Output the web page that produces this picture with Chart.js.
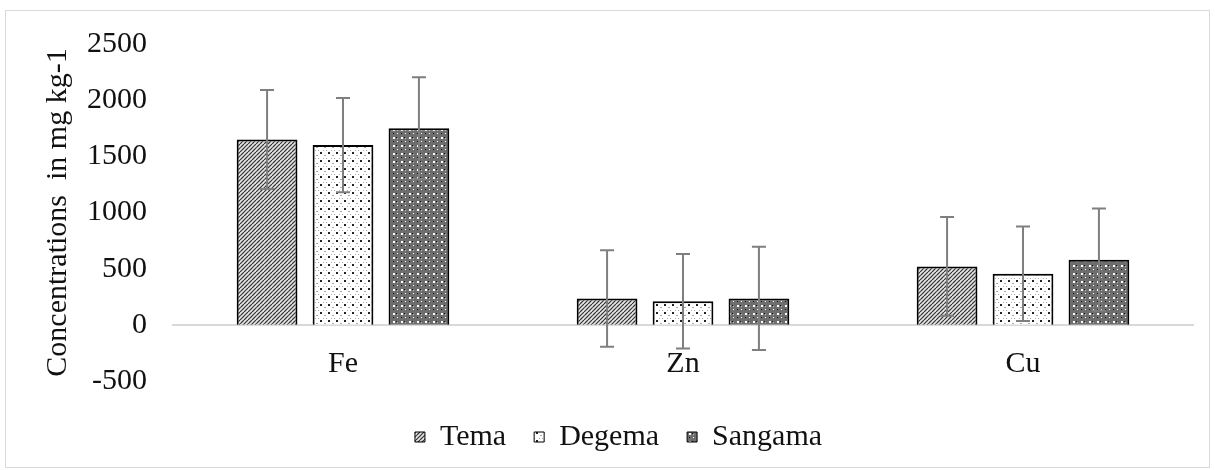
<!DOCTYPE html>
<html>
<head>
<meta charset="utf-8">
<script src="https://cdn.jsdelivr.net/npm/chart.js@4/dist/chart.umd.min.js"></script>
<style>
    body { margin: 0; background: #fff; }
    #wrap { position: relative; width: 1215px; height: 470px; }
    #frame { position: absolute; left: 5px; top: 10px; width: 1203px; height: 456px; border: 1px solid #d9d9d9; pointer-events: none; }
</style>
</head>
<body>
<div id="wrap">
    <canvas id="myChart" width="1215" height="470"></canvas>
    <div id="frame"></div>
</div>
<script>
// data
const categories = ["Fe", "Zn", "Cu"];
const seriesNames = ["Tema", "Degema", "Sangama"];
const temaValues = [1650, 235, 520];
const degemaValues = [1600, 210, 455];
const sangamaValues = [1750, 235, 580];
const temaErrors = [440, 430, 440];
const degemaErrors = [420, 420, 420];
const sangamaErrors = [455, 460, 455];
const yTicks = [-500, 0, 500, 1000, 1500, 2000, 2500];

// small tile patterns, like the Excel fills
function makePattern(draw, size) {
    const c = document.createElement("canvas");
    c.width = size; c.height = size;
    const g = c.getContext("2d");
    draw(g, size);
    return document.getElementById("myChart").getContext("2d").createPattern(c, "repeat");
}

const temaFill = makePattern((g, s) => {
    g.fillStyle = "#e6e6e6";
    g.fillRect(0, 0, s, s);
    g.strokeStyle = "#333";
    g.lineWidth = 1.2;
    for (let k = -s; k <= s; k += 4) {
        g.beginPath();
        g.moveTo(k, s);
        g.lineTo(k + s, 0);
        g.stroke();
    }
    g.fillStyle = "#999";
    g.fillRect(1, 1, 1, 1);
    g.fillRect(5, 5, 1, 1);
}, 8);

const degemaFill = makePattern((g, s) => {
    g.fillStyle = "#fff";
    g.fillRect(0, 0, s, s);
    g.fillStyle = "#222";
    g.fillRect(0, 0, 2, 2);
    g.fillStyle = "#aaa";
    g.fillRect(4, 3, 2, 1);
    g.fillRect(3, 6, 1, 1);
    g.fillRect(6, 6, 1, 1);
}, 8);

const sangamaFill = makePattern((g, s) => {
    g.fillStyle = "#6e6e6e";
    g.fillRect(0, 0, s, s);
    g.fillStyle = "#fff";
    g.fillRect(1, 1, 2, 2);
    g.fillRect(5, 5, 1, 1);
    g.fillStyle = "#111";
    g.fillRect(4, 1, 1, 1);
    g.fillRect(1, 5, 1, 1);
    g.fillStyle = "#bbb";
    g.fillRect(5, 2, 1, 1);
}, 8);

const errorLists = [temaErrors, degemaErrors, sangamaErrors];

// error bars drawn on top of the bars
const errorBarPlugin = {
    id: "errorBars",
    afterDatasetsDraw(chart) {
        const ctx = chart.ctx;
        const yScale = chart.scales.y;
        ctx.save();
        ctx.strokeStyle = "#7f7f7f";
        ctx.lineWidth = 2;
        chart.data.datasets.forEach((ds, i) => {
            const meta = chart.getDatasetMeta(i);
            meta.data.forEach((bar, j) => {
                const v = ds.data[j];
                const e = errorLists[i][j];
                const yTop = yScale.getPixelForValue(v + e);
                const yBot = yScale.getPixelForValue(v - e);
                ctx.beginPath();
                ctx.moveTo(bar.x, yTop);
                ctx.lineTo(bar.x, yBot);
                ctx.moveTo(bar.x - 7, yTop);
                ctx.lineTo(bar.x + 7, yTop);
                ctx.moveTo(bar.x - 7, yBot);
                ctx.lineTo(bar.x + 7, yBot);
                ctx.stroke();
            });
        });
        ctx.restore();
    }
};

// the legend sits a bit right of the canvas centre in the original
const legendShift = {
    id: "legendShift",
    afterLayout(chart) {
        chart.legend.left += 22;
        chart.legend.right += 22;
    }
};

const fontFamily = "'Liberation Serif', 'Times New Roman', serif";
const fills = [temaFill, degemaFill, sangamaFill];
const values = [temaValues, degemaValues, sangamaValues];

new Chart(document.getElementById("myChart"), {
    type: "bar",
    data: {
        labels: categories,
        datasets: seriesNames.map((name, i) => ({
            label: name,
            data: values[i],
            backgroundColor: fills[i],
            borderColor: "#000",
            borderWidth: 2,
            categoryPercentage: 0.67,
            barPercentage: 0.8
        }))
    },
    options: {
        responsive: false,
        animation: false,
        layout: { padding: { top: 41, right: 22, bottom: 8, left: 0 } },
        plugins: {
            tooltip: { enabled: false },
            legend: {
                position: "bottom",
                title: { display: true, text: " ", font: { size: 5, lineHeight: 1 }, padding: { top: 4, bottom: 4 } },
                labels: {
                    color: "#111",
                    font: { family: fontFamily, size: 30 },
                    boxWidth: 10,
                    boxHeight: 10,
                    padding: 28,
                    generateLabels(chart) {
                        return chart.data.datasets.map((ds, i) => ({
                            text: ds.label,
                            fillStyle: fills[i],
                            strokeStyle: "#000",
                            lineWidth: 1,
                            fontColor: "#111",
                            datasetIndex: i
                        }));
                    }
                }
            }
        },
        scales: {
            x: {
                position: { y: 0 },
                grid: { display: false, drawTicks: false },
                border: { display: true, color: "#d9d9d9", width: 2 },
                ticks: { color: "#111", font: { family: fontFamily, size: 30 }, padding: 21 }
            },
            y: {
                min: -500,
                max: 2500,
                afterBuildTicks(scale) {
                    scale.ticks = yTicks.map(v => ({ value: v }));
                },
                afterFit(scale) {
                    scale.width = 173;
                },
                grid: { display: false, drawTicks: false },
                border: { display: false },
                ticks: {
                    color: "#111",
                    font: { family: fontFamily, size: 30 },
                    padding: 26,
                    callback: v => String(v)
                },
                title: {
                    display: true,
                    text: "Concentrations  in mg kg-1",
                    color: "#111",
                    font: { family: fontFamily, size: 30 },
                    padding: { top: 40, bottom: 0 }
                }
            }
        }
    },
    plugins: [errorBarPlugin, legendShift]
});
</script>
</body>
</html>
